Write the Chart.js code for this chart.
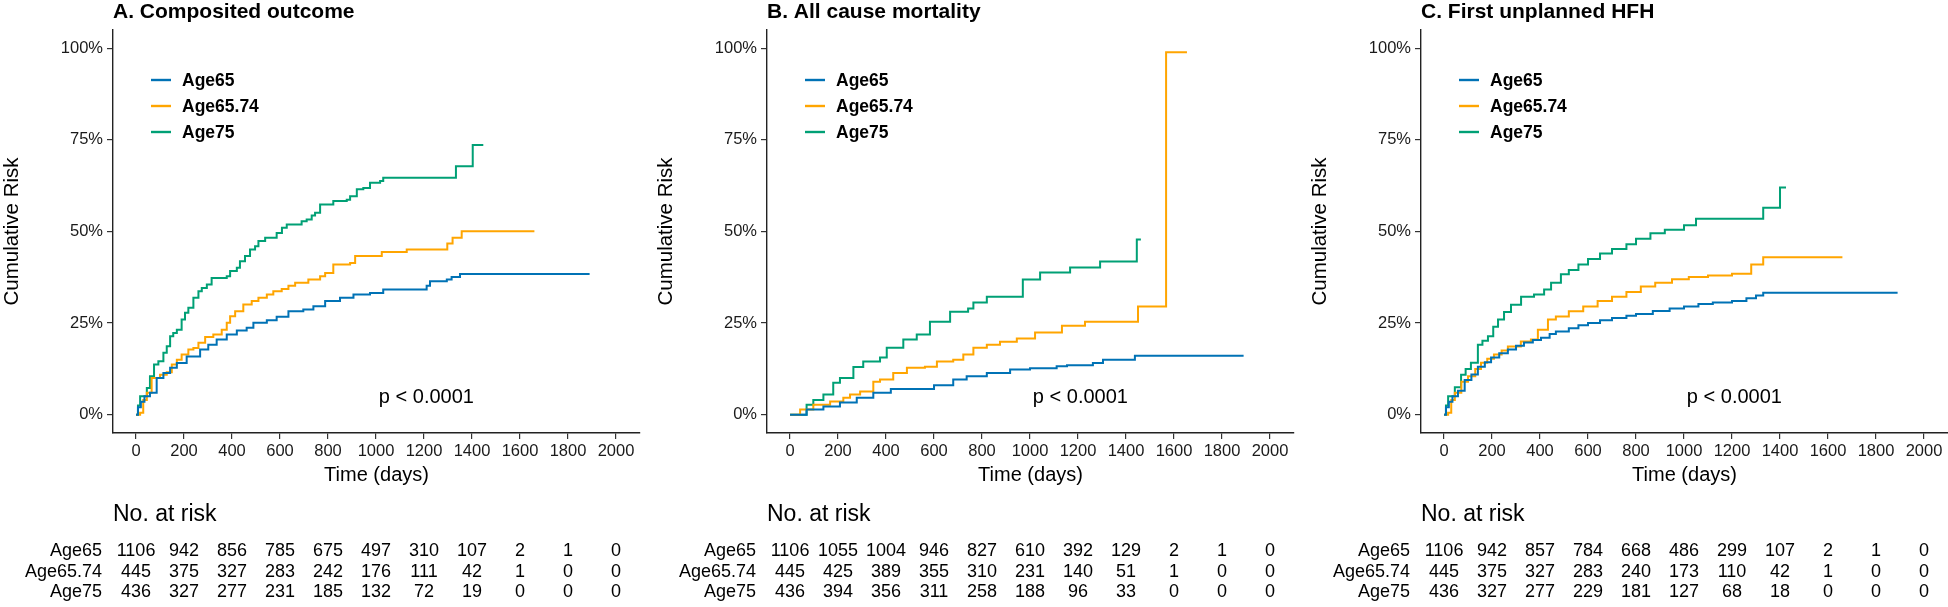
<!DOCTYPE html>
<html><head><meta charset="utf-8">
<script src="https://cdn.jsdelivr.net/npm/chart.js@4.4.1/dist/chart.umd.min.js"></script>
<style>
html,body{margin:0;padding:0;background:#fff;overflow:hidden;width:1948px;height:607px;position:relative;}
canvas.panel{position:absolute;top:0;}
</style></head><body>
<canvas id="cA" class="panel" style="left:0px"></canvas>
<canvas id="cB" class="panel" style="left:654px"></canvas>
<canvas id="cC" class="panel" style="left:1308px"></canvas>
<script>
// ---------- shared ----------
const groups = ['Age65', 'Age65.74', 'Age75'];
const groupColors = ['#0072B5', '#FFA500', '#00A075'];
const xTicks = [0, 200, 400, 600, 800, 1000, 1200, 1400, 1600, 1800, 2000];
const yTicks = [0, 25, 50, 75, 100];
const panelTitles = ['A. Composited outcome', 'B. All cause mortality', 'C. First unplanned HFH'];
const pValueText = 'p < 0.0001';

// ---------- Panel A: Composited outcome ----------
const aDays65   = [0, 8, 20, 35, 58, 86, 114, 142, 170, 211, 267, 301, 336, 378, 420, 461, 489, 545, 586, 635, 697, 739, 788, 850, 906, 975, 1030, 1211, 1225, 1295, 1315, 1350, 1890];
const aRisk65   = [0, 2, 3.5, 5, 6, 10, 11.4, 12.8, 14.1, 15.9, 17.8, 19.1, 20.5, 21.9, 23, 23.7, 25.1, 25.8, 26.7, 28.2, 28.7, 29.6, 31, 31.9, 32.8, 33.2, 34.2, 35.2, 36.4, 36.9, 37.6, 38.4, 38.4];
const aDays6574 = [0, 17, 30, 45, 65, 100, 128, 149, 170, 190, 218, 239, 260, 288, 322, 357, 378, 392, 413, 447, 482, 510, 545, 572, 607, 635, 663, 718, 767, 788, 822, 892, 913, 1024, 1128, 1297, 1319, 1357, 1660];
const aRisk6574 = [0, 0.5, 4, 6, 10, 10.9, 11.6, 13.7, 15, 16.4, 17.8, 18.2, 19.6, 21.2, 21.9, 23.2, 25.1, 26.9, 28.2, 30.1, 31, 31.9, 32.8, 33.7, 34.3, 35.2, 36, 36.9, 37.8, 38.7, 41, 41.4, 43.3, 44.4, 45.1, 46.7, 48.3, 50.1, 50.1];
const aDays75   = [0, 8, 17, 45, 58, 75, 93, 114, 128, 142, 155, 170, 190, 204, 218, 239, 260, 274, 295, 315, 378, 392, 420, 433, 454, 475, 496, 510, 538, 586, 608, 628, 690, 711, 732, 746, 767, 822, 878, 892, 920, 947, 975, 1017, 1030, 1333, 1403, 1447];
const aRisk75   = [0, 2.5, 5, 7.3, 10.5, 13.7, 14.6, 16.9, 18.7, 21.4, 22.3, 23.2, 26, 27.8, 29.2, 31.9, 33.7, 34.6, 35.5, 37.3, 37.8, 39.2, 40.1, 41.9, 43.3, 45.1, 46, 47.4, 48.3, 49.6, 51, 51.9, 52.8, 53.3, 54.4, 55.1, 57.4, 58.3, 58.7, 59.6, 61.5, 61.9, 63.3, 63.8, 64.7, 67.8, 73.6, 73.6];
const aAtRisk65   = [1106, 942, 856, 785, 675, 497, 310, 107, 2, 1, 0];
const aAtRisk6574 = [445, 375, 327, 283, 242, 176, 111, 42, 1, 0, 0];
const aAtRisk75   = [436, 327, 277, 231, 185, 132, 72, 19, 0, 0, 0];

// ---------- Panel B: All cause mortality ----------
const bDays65   = [0, 69, 139, 208, 278, 347, 420, 600, 680, 736, 820, 917, 1000, 1111, 1154, 1262, 1304, 1437, 1890];
const bRisk65   = [0, 1.4, 2.2, 3.3, 4.6, 6, 7, 8, 9.6, 10.5, 11.4, 12.3, 12.7, 13.2, 13.5, 14.1, 15, 16.1, 16.1];
const bDays6574 = [0, 42, 97, 167, 222, 250, 292, 347, 375, 430, 487, 562, 612, 680, 722, 764, 820, 875, 945, 1021, 1133, 1229, 1450, 1567, 1654];
const bRisk6574 = [0, 1.4, 2.7, 3.6, 4.6, 5.5, 6.3, 9, 9.6, 11.4, 12.8, 13.1, 14.5, 15, 16.4, 18.3, 19.1, 19.9, 20.8, 22.4, 24.3, 25.4, 29.5, 98.9, 98.9];
const bDays75   = [0, 69, 97, 139, 180, 208, 264, 305, 375, 403, 472, 528, 583, 667, 742, 764, 820, 970, 1042, 1167, 1292, 1445, 1462];
const bRisk75   = [0, 2.7, 4, 5.5, 8.7, 10, 13, 14.5, 15.6, 18.3, 20.5, 21.9, 25.4, 28.1, 29, 30.6, 32.2, 36.9, 38.8, 40.2, 41.8, 47.8, 47.8];
const bAtRisk65   = [1106, 1055, 1004, 946, 827, 610, 392, 129, 2, 1, 0];
const bAtRisk6574 = [445, 425, 389, 355, 310, 231, 140, 51, 1, 0, 0];
const bAtRisk75   = [436, 394, 356, 311, 258, 188, 96, 33, 0, 0, 0];

// ---------- Panel C: First unplanned HFH ----------
const cDays65   = [0, 8, 20, 35, 58, 86, 114, 141, 170, 196, 230, 266, 300, 333, 370, 404, 440, 466, 520, 560, 600, 650, 700, 760, 800, 870, 940, 1000, 1060, 1120, 1200, 1260, 1300, 1330, 1890];
const cRisk65   = [0, 2, 3.5, 5, 6.5, 9.5, 11, 13.1, 14.3, 15.6, 16.8, 17.8, 18.8, 19.7, 20.4, 21, 22, 22.7, 23.6, 24.4, 25, 25.8, 26.4, 27, 27.5, 28.3, 29, 29.5, 30.2, 30.6, 31, 31.8, 32.5, 33.3, 33.3];
const cDays6574 = [0, 17, 30, 45, 72, 100, 130, 154, 180, 208, 240, 266, 320, 362, 391, 433, 466, 520, 580, 640, 700, 760, 820, 880, 950, 1020, 1100, 1200, 1280, 1330, 1660];
const cRisk6574 = [0, 0.5, 4, 6, 9, 10.5, 12.5, 14.2, 15.3, 16.4, 17.5, 18.6, 20, 20.5, 23.2, 26, 26.8, 28.2, 29.5, 31, 32.2, 33.5, 35, 36, 37, 37.6, 38, 38.5, 41, 43, 43];
const cDays75   = [0, 8, 17, 45, 71, 90, 112, 141, 160, 183, 205, 225, 250, 279, 321, 375, 417, 446, 487, 520, 560, 600, 650, 700, 760, 800, 860, 920, 1000, 1050, 1330, 1400, 1425];
const cRisk75   = [0, 2.5, 5, 7.5, 10.9, 12.5, 14.2, 19.1, 20.2, 21.4, 24, 26, 28, 30, 32.2, 32.8, 34.2, 36, 38.3, 39.5, 41, 42.5, 44, 45.2, 46.5, 48, 49.5, 50.5, 51.7, 53.5, 56.5, 62, 62];
const cAtRisk65   = [1106, 942, 857, 784, 668, 486, 299, 107, 2, 1, 0];
const cAtRisk6574 = [445, 375, 327, 283, 240, 173, 110, 42, 1, 0, 0];
const cAtRisk75   = [436, 327, 277, 229, 181, 127, 68, 18, 0, 0, 0];

// ---------- builders ----------
const FONT = "'Liberation Sans', Arial, sans-serif";
const INK = '#1a1a1a';

function pts(days, risk) { return days.map((d, i) => ({ x: d, y: risk[i] })); }

const panelPlugin = {
  id: 'panelDecor',
  afterDraw(chart, args, opts) {
    const ctx = chart.ctx;
    const xs = chart.scales.x, ys = chart.scales.y;
    const area = chart.chartArea;
    ctx.save();
    // title
    ctx.fillStyle = '#000';
    ctx.font = `bold 21px ${FONT}`;
    ctx.textAlign = 'left'; ctx.textBaseline = 'alphabetic';
    ctx.fillText(opts.title, area.left, 18);
    // legend
    ctx.font = `bold 17.5px ${FONT}`;
    ctx.textBaseline = 'middle';
    chart.data.datasets.forEach((ds, i) => {
      const y = 80 + i * 26;
      ctx.strokeStyle = ds.borderColor; ctx.lineWidth = 2.4;
      ctx.beginPath(); ctx.moveTo(area.left + 38, y); ctx.lineTo(area.left + 58, y); ctx.stroke();
      ctx.fillStyle = '#000';
      ctx.fillText(ds.label, area.left + 69, y + 1);
    });
    // p value
    ctx.font = `20px ${FONT}`;
    ctx.textAlign = 'center'; ctx.fillStyle = '#000';
    ctx.fillText(opts.pText, xs.getPixelForValue(1210), ys.getPixelForValue(4.6));
    // risk table
    ctx.font = `23px ${FONT}`;
    ctx.textAlign = 'left';
    ctx.fillText('No. at risk', area.left, 515);
    ctx.font = `18px ${FONT}`;
    const rowY = [551, 572, 592];
    opts.risk.forEach((row, r) => {
      ctx.textAlign = 'right';
      ctx.fillText(groups[r], area.left - 11, rowY[r]);
      ctx.textAlign = 'center';
      row.forEach((v, k) => ctx.fillText(String(v), xs.getPixelForValue(xTicks[k]), rowY[r]));
    });
    ctx.restore();
  }
};

function makePanel(id, idx, series, risk) {
  const canvas = document.getElementById(id);
  canvas.width = 654; canvas.height = 607;
  canvas.style.width = '654px'; canvas.style.height = '607px';
  return new Chart(canvas, {
    type: 'line',
    data: {
      datasets: series.map((s, i) => ({
        label: groups[i],
        data: pts(s[0], s[1]),
        borderColor: groupColors[i],
        backgroundColor: groupColors[i],
        borderWidth: 2,
        pointRadius: 0,
        stepped: true,
        tension: 0,
        fill: false
      }))
    },
    options: {
      responsive: false,
      animation: false,
      devicePixelRatio: 1,
      layout: { padding: { left: 0, top: 30, right: 14, bottom: 116 } },
      plugins: {
        legend: { display: false },
        tooltip: { enabled: false },
        panelDecor: { title: panelTitles[idx], pText: pValueText, risk: risk }
      },
      scales: {
        x: {
          type: 'linear', min: -96, max: 2100,
          afterBuildTicks: sc => { sc.ticks = xTicks.map(v => ({ value: v })); },
          afterFit: sc => { sc.height = 58; },
          grid: { display: true, drawOnChartArea: false, drawTicks: true, tickLength: 6, color: '#333', lineWidth: 1.2 },
          border: { display: true, color: '#222', width: 1.4 },
          ticks: { font: { family: FONT, size: 16.5 }, color: INK, padding: 3, maxRotation: 0, autoSkip: false, callback: v => String(v) },
          title: { display: true, text: 'Time (days)', font: { family: FONT, size: 20 }, color: '#000', padding: { top: 4, bottom: 4 } }
        },
        y: {
          type: 'linear', min: -5, max: 105,
          afterBuildTicks: sc => { sc.ticks = yTicks.map(v => ({ value: v })); },
          afterFit: sc => { sc.width = 113; },
          grid: { display: true, drawOnChartArea: false, drawTicks: true, tickLength: 6, color: '#333', lineWidth: 1.2 },
          border: { display: true, color: '#222', width: 1.4 },
          ticks: { font: { family: FONT, size: 16.5 }, color: INK, padding: 4, callback: v => v + '%' },
          title: { display: true, text: 'Cumulative Risk', font: { family: FONT, size: 20.5 }, color: '#000', padding: { top: 0, bottom: 0 } }
        }
      }
    },
    plugins: [panelPlugin]
  });
}

makePanel('cA', 0, [[aDays65, aRisk65], [aDays6574, aRisk6574], [aDays75, aRisk75]], [aAtRisk65, aAtRisk6574, aAtRisk75]);
makePanel('cB', 1, [[bDays65, bRisk65], [bDays6574, bRisk6574], [bDays75, bRisk75]], [bAtRisk65, bAtRisk6574, bAtRisk75]);
makePanel('cC', 2, [[cDays65, cRisk65], [cDays6574, cRisk6574], [cDays75, cRisk75]], [cAtRisk65, cAtRisk6574, cAtRisk75]);
</script>
</body></html>
